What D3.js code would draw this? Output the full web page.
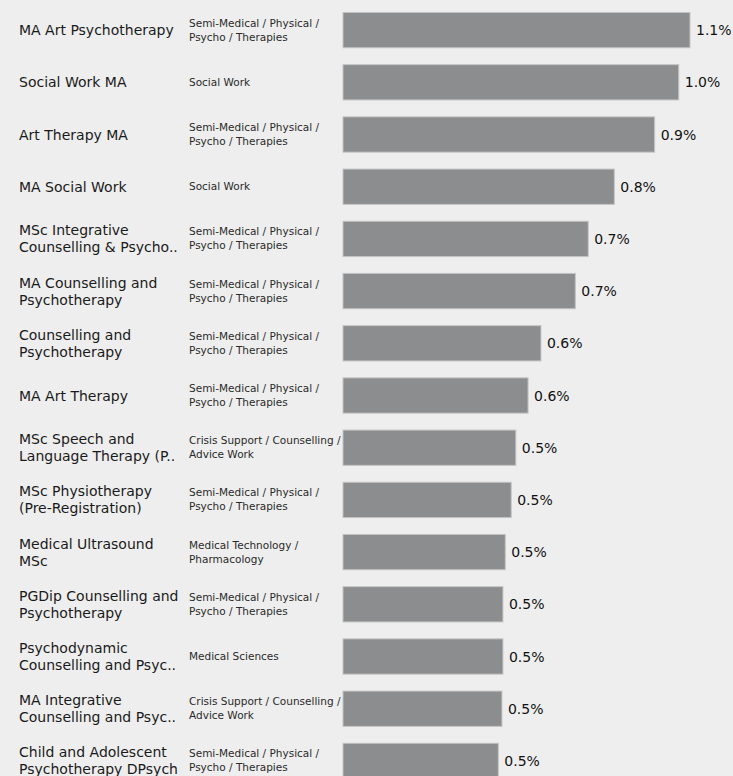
<!DOCTYPE html>
<html>
<head>
<meta charset="utf-8">
<script src="https://cdn.jsdelivr.net/npm/d3@7"></script>
<style>
  html, body { margin: 0; padding: 0; background: #eeeeee; }
  svg { display: block; font-family: "DejaVu Sans", sans-serif; }
</style>
</head>
<body>
<div class="canvas"></div>
<script>

var courses = [
  ["MA Art Psychotherapy"],
  ["Social Work MA"],
  ["Art Therapy MA"],
  ["MA Social Work"],
  ["MSc Integrative", "Counselling & Psycho.."],
  ["MA Counselling and", "Psychotherapy"],
  ["Counselling and", "Psychotherapy"],
  ["MA Art Therapy"],
  ["MSc Speech and", "Language Therapy (P.."],
  ["MSc Physiotherapy", "(Pre-Registration)"],
  ["Medical Ultrasound", "MSc"],
  ["PGDip Counselling and", "Psychotherapy"],
  ["Psychodynamic", "Counselling and Psyc.."],
  ["MA Integrative", "Counselling and Psyc.."],
  ["Child and Adolescent", "Psychotherapy DPsych"]
];

var categories = [
  ["Semi-Medical / Physical /", "Psycho / Therapies"],
  ["Social Work"],
  ["Semi-Medical / Physical /", "Psycho / Therapies"],
  ["Social Work"],
  ["Semi-Medical / Physical /", "Psycho / Therapies"],
  ["Semi-Medical / Physical /", "Psycho / Therapies"],
  ["Semi-Medical / Physical /", "Psycho / Therapies"],
  ["Semi-Medical / Physical /", "Psycho / Therapies"],
  ["Crisis Support / Counselling /", "Advice Work"],
  ["Semi-Medical / Physical /", "Psycho / Therapies"],
  ["Medical Technology /", "Pharmacology"],
  ["Semi-Medical / Physical /", "Psycho / Therapies"],
  ["Medical Sciences"],
  ["Crisis Support / Counselling /", "Advice Work"],
  ["Semi-Medical / Physical /", "Psycho / Therapies"]
];

// share, in percent
var shares = [1.050, 1.016, 0.943, 0.821, 0.742, 0.703, 0.599, 0.560,
              0.523, 0.509, 0.491, 0.484, 0.484, 0.481, 0.470];

var width = 733, height = 776;

var svg = d3.select(".canvas")
  .append("svg")
  .attr("width", width)
  .attr("height", height);

var idx = d3.range(shares.length);

var y = d3.scaleBand()
  .domain(idx)
  .range([4, 4 + 52.2 * shares.length])
  .paddingInner(0.324)
  .paddingOuter(0.162);

var x = d3.scaleLinear()
  .domain([0, 1.05])
  .range([343, 690]);

var rows = svg.selectAll("g.row")
  .data(idx)
  .enter().append("g")
  .attr("class", "row")
  .attr("transform", function(i) {
    return "translate(0," + (y(i) + y.bandwidth() / 2) + ")";
  });

// course names
rows.append("text")
  .attr("x", 19)
  .attr("fill", "#1a1a1a")
  .style("font-size", "14px")
  .each(function(i) {
    var lines = courses[i];
    var off = lines.length == 1 ? 5 : -3.5;
    d3.select(this).selectAll("tspan")
      .data(lines)
      .enter().append("tspan")
      .attr("x", 19)
      .attr("y", function(d, k) { return off + k * 17; })
      .text(function(d) { return d; });
  });

// categories
rows.append("text")
  .attr("fill", "#2a2a2a")
  .style("font-size", "10.5px")
  .each(function(i) {
    var lines = categories[i];
    var off = lines.length == 1 ? 3.5 : -3.5;
    d3.select(this).selectAll("tspan")
      .data(lines)
      .enter().append("tspan")
      .attr("x", 189)
      .attr("y", function(d, k) { return off + k * 14; })
      .text(function(d) { return d; });
  });

// bars
rows.append("rect")
  .attr("x", x(0))
  .attr("y", -y.bandwidth() / 2)
  .attr("width", function(i) { return x(shares[i]) - x(0); })
  .attr("height", y.bandwidth())
  .attr("fill", "#8c8d8e")
  .attr("stroke", "#c4c4c4")
  .attr("stroke-width", 1);

// value labels
rows.append("text")
  .attr("x", function(i) { return x(shares[i]) + 6; })
  .attr("y", 5)
  .attr("fill", "#111")
  .style("font-size", "14px")
  .text(function(i) { return d3.format(".1f")(shares[i]) + "%"; });

</script>
</body>
</html>
